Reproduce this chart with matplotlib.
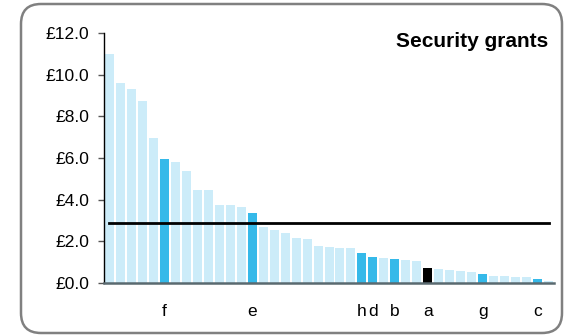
import matplotlib
matplotlib.use("Agg")
import matplotlib.pyplot as plt
from matplotlib.patches import FancyBboxPatch
import numpy as np

plt.rcParams['font.family'] = ['Liberation Sans', 'DejaVu Sans']

values = [11.0, 9.6, 9.3, 8.75, 6.95, 5.95, 5.8, 5.38, 4.45, 4.45,
          3.74, 3.74, 3.65, 3.36, 2.69, 2.54, 2.40, 2.16, 2.11, 1.78,
          1.73, 1.68, 1.68, 1.44, 1.25, 1.20, 1.15, 1.10, 1.05, 0.72,
          0.67, 0.62, 0.58, 0.53, 0.43, 0.34, 0.34, 0.29, 0.29, 0.19, 0.10]
labels = ['', '', '', '', '', 'f', '', '', '', '',
          '', '', '', 'e', '', '', '', '', '', '',
          '', '', '', 'h', 'd', '', 'b', '', '', 'a',
          '', '', '', '', 'g', '', '', '', '', 'c', '']
threshold = 2.87
title = "Security grants"
yticks = [0, 2, 4, 6, 8, 10, 12]

LIGHT = '#CCECF9'
BLUE = '#35B9E9'
BLACK = '#000000'
colors = [BLACK if l == 'a' else (BLUE if l else LIGHT) for l in labels]

fig = plt.figure(figsize=(5.71, 3.36), dpi=100)
ax = fig.add_axes([104/571, 1-283/336, 450/571, 250/336])

x = np.arange(len(values))
ax.bar(x, values, width=0.82, color=colors, zorder=2)
ax.plot(x, np.full(len(x), threshold), color='black', lw=2, zorder=3)

ax.set_xlim(-0.5, len(values) - 0.5)
ax.set_ylim(0, 12)
ax.set_yticks(yticks)
ax.set_yticklabels([f"£{v:.1f}" for v in yticks], fontsize=12.5)
ax.set_xticks(x)
ax.set_xticklabels(labels, fontsize=12.5)
ax.tick_params(axis='x', length=0, pad=15)
ax.tick_params(axis='y', length=4.5, width=1, color='#555555', pad=6)

for s in ['top', 'right']:
    ax.spines[s].set_visible(False)
ax.spines['left'].set_color('black')
ax.spines['left'].set_linewidth(1)
ax.spines['bottom'].set_color('#5a6a70')
ax.spines['bottom'].set_linewidth(1.8)
ax.spines['bottom'].set_zorder(4)

ax.text(0.987, 0.944, title, transform=ax.transAxes, ha='right', va='baseline',
        fontsize=15, fontweight='bold')

box = FancyBboxPatch((0.21, 0.03), 5.41, 3.29,
                     boxstyle="round,pad=0,rounding_size=0.2",
                     transform=fig.dpi_scale_trans, facecolor='none',
                     edgecolor='#808080', linewidth=1.8, zorder=0)
fig.patches.append(box)

fig.savefig('out.png', dpi=100)
